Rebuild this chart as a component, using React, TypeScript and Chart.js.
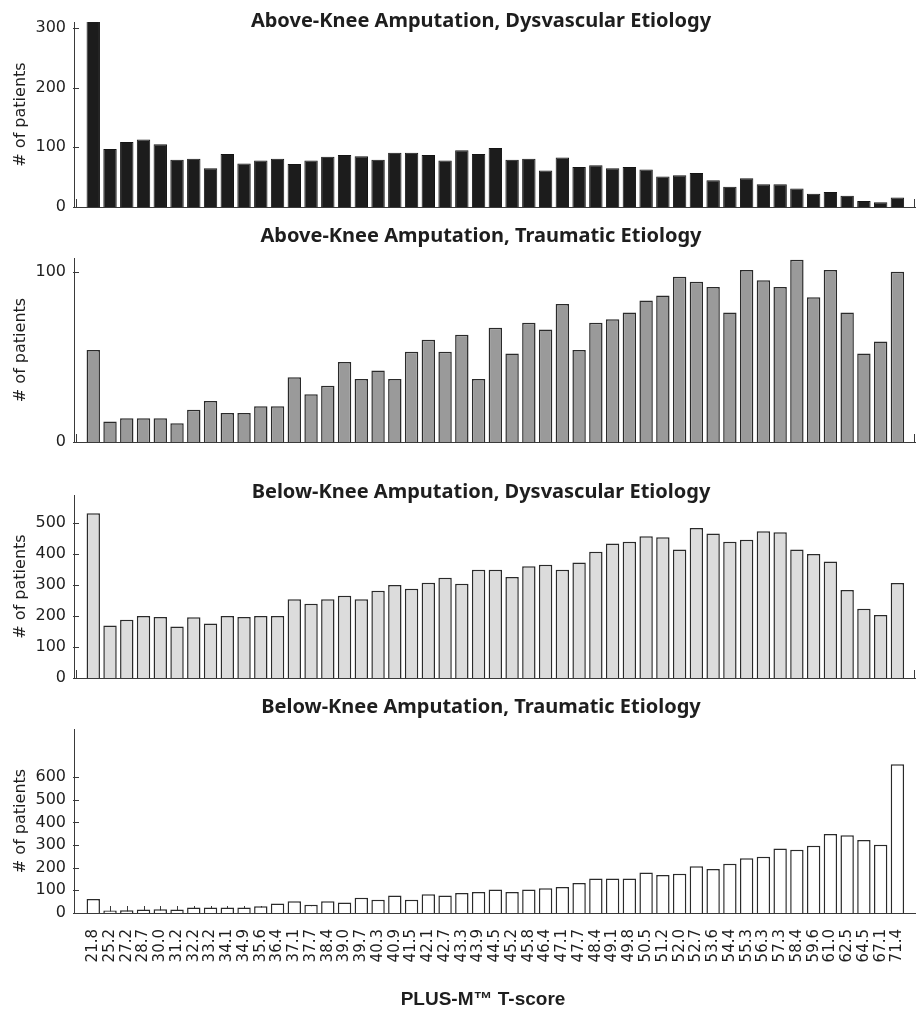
import React, { useEffect, useRef } from 'react';
import { Chart, registerables } from 'chart.js';

Chart.register(...registerables);

// ---------- data ----------
const tScores = [
  '21.8', '25.2', '27.2', '28.7', '30.0', '31.2', '32.2', '33.2', '34.1', '34.9',
  '35.6', '36.4', '37.1', '37.7', '38.4', '39.0', '39.7', '40.3', '40.9', '41.5',
  '42.1', '42.7', '43.3', '43.9', '44.5', '45.2', '45.8', '46.4', '47.1', '47.7',
  '48.4', '49.1', '49.8', '50.5', '51.2', '52.0', '52.7', '53.6', '54.4', '55.3',
  '56.3', '57.3', '58.4', '59.6', '61.0', '62.5', '64.5', '67.1', '71.4',
];

const akDysvascular = [
  320, 97, 109, 113, 105, 79, 81, 65, 89, 73, 78, 81, 72, 78, 84, 87, 85, 79, 91, 91,
  87, 78, 95, 89, 99, 79, 81, 61, 83, 67, 70, 65, 67, 63, 51, 53, 57, 45, 34, 48,
  38, 38, 31, 22, 25, 19, 10, 8, 16,
];

const akTraumatic = [
  54, 12, 14, 14, 14, 11, 19, 24, 17, 17, 21, 21, 38, 28, 33, 47, 37, 42, 37, 53,
  60, 53, 63, 37, 67, 52, 70, 66, 81, 54, 70, 72, 76, 83, 86, 97, 94, 91, 76, 101,
  95, 91, 107, 85, 101, 76, 52, 59, 100,
];

const bkDysvascular = [
  531, 169, 188, 200, 197, 166, 196, 176, 200, 197, 200, 200, 254, 239, 254, 265, 254, 281, 300, 288,
  307, 323, 304, 349, 349, 326, 360, 365, 349, 372, 407, 434, 439, 457, 454, 414, 484, 466, 439, 446,
  473, 470, 414, 400, 376, 284, 223, 203, 306,
];

const bkTraumatic = [
  62, 11, 12, 15, 16, 15, 24, 24, 24, 24, 30, 42, 52, 36, 52, 46, 67, 58, 77, 58,
  83, 77, 88, 93, 104, 93, 104, 109, 115, 132, 152, 152, 152, 179, 168, 173, 206, 194, 217, 242,
  248, 285, 279, 297, 349, 343, 322, 301, 656,
];

const panelTitles = [
  'Above-Knee Amputation, Dysvascular Etiology',
  'Above-Knee Amputation, Traumatic Etiology',
  'Below-Knee Amputation, Dysvascular Etiology',
  'Below-Knee Amputation, Traumatic Etiology',
];

const yTicksAkDys = [0, 100, 200, 300];
const yTicksAkTrau = [0, 100];
const yTicksBkDys = [0, 100, 200, 300, 400, 500];
const yTicksBkTrau = [0, 100, 200, 300, 400, 500, 600];

const yAxisTitle = '# of patients';
const xAxisTitle = 'PLUS-M\u2122 T-score';

// ---------- layout / style ----------
const W = 923;
const H = 1009;
const AXIS = '#3a3a3a';
const TEXT = '#1e1e1e';

type PanelCfg = {
  title: string;
  values: number[];
  yTicks: number[];
  yMax: number;
  fill: string;
  border: string;
  borderWidth: number;
  top: number;
  bottom: number;
  titleBaseline: number;
  showX: boolean;
};

const panels: PanelCfg[] = [
  { title: panelTitles[0], values: akDysvascular, yTicks: yTicksAkDys, yMax: 310, fill: '#1c1c1c', border: '#141414', borderWidth: 1, top: 22, bottom: 207, titleBaseline: 27, showX: false },
  { title: panelTitles[1], values: akTraumatic, yTicks: yTicksAkTrau, yMax: 108, fill: '#9a9a9a', border: '#2a2a2a', borderWidth: 1.5, top: 258, bottom: 442, titleBaseline: 241.5, showX: false },
  { title: panelTitles[2], values: bkDysvascular, yTicks: yTicksBkDys, yMax: 590, fill: '#dcdcdc', border: '#2a2a2a', borderWidth: 1.5, top: 495, bottom: 678, titleBaseline: 498, showX: false },
  { title: panelTitles[3], values: bkTraumatic, yTicks: yTicksBkTrau, yMax: 812, fill: '#ffffff', border: '#2a2a2a', borderWidth: 1.5, top: 729, bottom: 913, titleBaseline: 713, showX: true },
];

function PanelChart({ cfg }: { cfg: PanelCfg }) {
  const ref = useRef<HTMLCanvasElement>(null);

  useEffect(() => {
    const canvas = ref.current;
    if (!canvas) return;

    const decor = {
      id: 'decor',
      beforeDatasetsDraw(chart: any) {
        const { ctx, chartArea: a, scales } = chart;
        ctx.save();
        ctx.strokeStyle = AXIS;
        ctx.lineWidth = 1;
        ctx.beginPath();
        for (const t of scales.y.ticks) {
          const y = Math.round(scales.y.getPixelForValue(t.value)) + 0.5;
          ctx.moveTo(a.left - 1, y);
          ctx.lineTo(a.left + 5, y);
        }
        if (cfg.showX) {
          for (const t of scales.x.ticks) {
            const x = Math.round(scales.x.getPixelForValue(t.value)) + 0.5;
            ctx.moveTo(x, a.bottom);
            ctx.lineTo(x, a.bottom - 7);
          }
        } else {
          const xl = Math.round(a.left + 2) + 0.5;
          const xr = Math.round(a.right) - 0.5;
          ctx.moveTo(xl, a.bottom);
          ctx.lineTo(xl, a.bottom - 8);
          ctx.moveTo(xr, a.bottom);
          ctx.lineTo(xr, a.bottom - 8);
        }
        ctx.stroke();
        ctx.restore();
      },
      afterDraw(chart: any) {
        const { ctx } = chart;
        ctx.save();
        ctx.fillStyle = TEXT;
        ctx.textAlign = 'center';
        ctx.textBaseline = 'alphabetic';
        ctx.font = 'bold 20px "Noto Sans"';
        ctx.fillText(cfg.title, 481, cfg.titleBaseline);
        if (cfg.showX) {
          ctx.font = 'bold 19px "Liberation Sans"';
          ctx.fillText(xAxisTitle, 483, 1005);
        }
        ctx.restore();
      },
    };

    const points = cfg.values.map((v, i) => ({ x: i, y: v }));

    const chart = new Chart(canvas, {
      type: 'bar',
      data: {
        datasets: [
          {
            data: points as any,
            backgroundColor: cfg.fill,
            borderColor: cfg.border,
            borderWidth: cfg.borderWidth,
            categoryPercentage: 1,
            barPercentage: 0.8,
            clip: 0,
          } as any,
        ],
      },
      options: {
        animation: false,
        responsive: false,
        events: [],
        layout: {
          padding: { left: 0, right: 8, top: cfg.top, bottom: cfg.showX ? 0 : H - cfg.bottom },
        },
        plugins: {
          legend: { display: false },
          tooltip: { enabled: false },
          title: { display: false },
        },
        scales: {
          x: {
            type: 'linear',
            min: -1.15,
            max: 49.05,
            offset: false,
            grid: { display: false, drawTicks: false },
            border: { display: true, color: AXIS, width: 1 },
            ticks: {
              display: cfg.showX,
              autoSkip: false,
              minRotation: 90,
              maxRotation: 90,
              padding: 16,
              color: TEXT,
              font: { family: 'DejaVu Sans', size: 15 },
              callback: (v: any) => tScores[v as number] ?? '',
            },
            afterBuildTicks: (axis: any) => {
              axis.ticks = tScores.map((_, i) => ({ value: i }));
            },
            afterFit: (s: any) => {
              s.height = cfg.showX ? H - cfg.bottom : 0;
              s.paddingLeft = 0;
              s.paddingRight = 0;
            },
          },
          y: {
            min: 0,
            max: cfg.yMax,
            grid: { display: false, drawTicks: false },
            border: { display: true, color: AXIS, width: 1 },
            ticks: {
              padding: 8,
              color: TEXT,
              font: { family: 'DejaVu Sans', size: 16 },
            },
            afterBuildTicks: (axis: any) => {
              axis.ticks = cfg.yTicks.map((v) => ({ value: v }));
            },
            afterFit: (s: any) => {
              s.width = 74;
              s.paddingTop = 0;
              s.paddingBottom = 0;
            },
            title: {
              display: true,
              text: yAxisTitle,
              color: TEXT,
              font: { family: 'DejaVu Sans', size: 16 },
              padding: { top: 11, bottom: 0 },
            },
          },
        },
      } as any,
      plugins: [decor],
    });

    return () => chart.destroy();
  }, [cfg]);

  return (
    <canvas
      ref={ref}
      width={W}
      height={H}
      style={{ position: 'absolute', left: 0, top: 0, width: W, height: H, display: 'block' }}
    />
  );
}

export default function App() {
  return (
    <div style={{ position: 'absolute', left: 0, top: 0, width: W, height: H, background: '#ffffff', overflow: 'hidden' }}>
      {panels.map((p, i) => (
        <PanelChart key={i} cfg={p} />
      ))}
    </div>
  );
}
